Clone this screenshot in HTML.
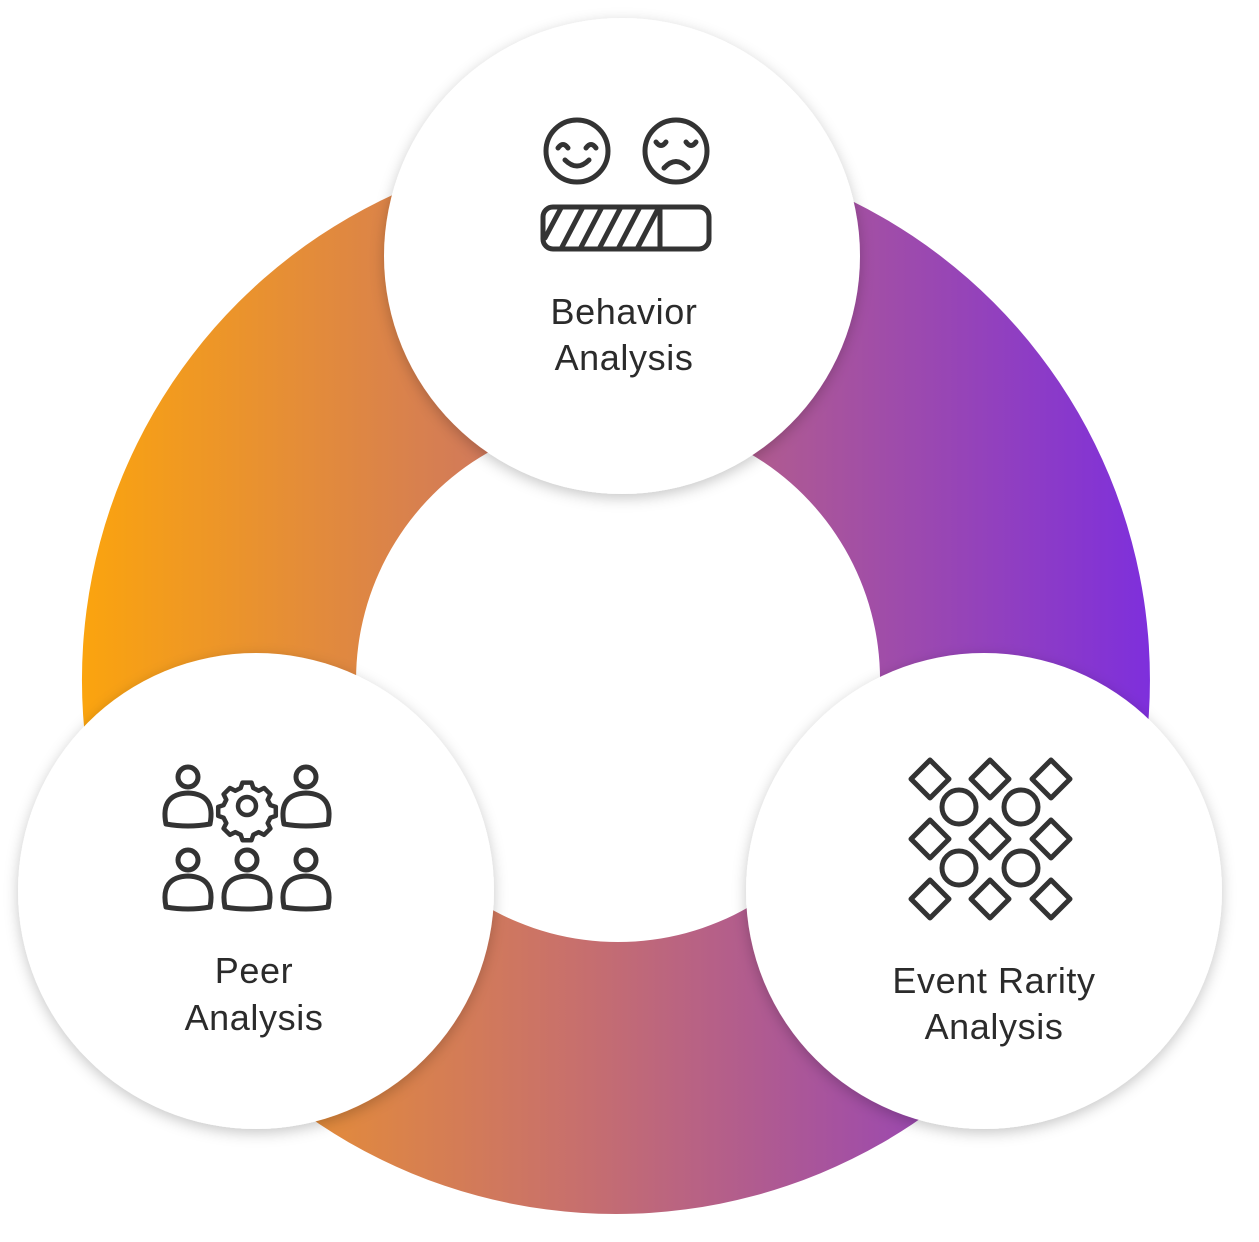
<!DOCTYPE html>
<html><head><meta charset="utf-8"><style>
html,body{margin:0;padding:0;background:#fff;}
svg{display:block;}
text{font-family:"Liberation Sans",sans-serif;font-size:36px;fill:#2b2b2b;text-anchor:middle;letter-spacing:0.6px;}
</style></head><body>
<svg width="1259" height="1242" viewBox="0 0 1259 1242" xmlns="http://www.w3.org/2000/svg">
<defs>
<linearGradient id="g" x1="82" y1="0" x2="1150" y2="0" gradientUnits="userSpaceOnUse">
<stop offset="0" stop-color="#fba40e"/>
<stop offset="0.45" stop-color="#c9716a"/>
<stop offset="1" stop-color="#7e2fdc"/>
</linearGradient>
<filter id="sh" x="-20%" y="-20%" width="140%" height="140%">
<feDropShadow dx="0" dy="4" stdDeviation="7" flood-color="#000" flood-opacity="0.22"/>
</filter>
</defs>
<path fill="url(#g)" fill-rule="evenodd" d="M616 146 A534 534 0 1 1 615.9 146 Z M618 418 A262 262 0 1 0 618.1 418 Z"/>
<g fill="#fff" filter="url(#sh)">
<circle cx="622" cy="256" r="238"/>
<circle cx="256" cy="891" r="238"/>
<circle cx="984" cy="891" r="238"/>
</g>
<g fill="none" stroke="#333" stroke-width="5" stroke-linecap="round" stroke-linejoin="round">
<circle cx="577" cy="151" r="31"/>
<circle cx="676" cy="151" r="31"/>
<path d="M558 148 q5 -7 10 0 M586 148 q5 -7 10 0 M565 160 q12 12 24 0"/>
<path d="M656 142 q5 7 10 0 M686 142 q5 7 10 0 M664 168 q12 -13 24 0"/>
<rect x="543" y="207" width="166" height="42" rx="10"/>
<line x1="660" y1="207" x2="660" y2="249"/>
<path d="M545 238 l16 -30 M561 249 l22 -42 M580 249 l22 -42 M599 249 l22 -42 M618 249 l22 -42 M637 249 l22 -42"/>
<g id="p">
<circle cx="188" cy="777" r="10"/>
<path d="M166 824 q-6 -30 22 -31 q28 1 22 31 q-22 4 -44 0z"/>
</g>
<use href="#p" x="118"/>
<use href="#p" y="83"/>
<use href="#p" x="59" y="83"/>
<use href="#p" x="118" y="83"/>
<g transform="translate(247 806) scale(0.9) translate(-247 -806)">
<circle cx="247" cy="806" r="10"/>
<path d="M242 780 h10 l2 6 l6 3 l6 -3 l7 7 l-3 6 l3 6 l6 2 v10 l-6 2 l-3 6 l3 6 l-7 7 l-6 -3 l-6 3 l-2 6 h-10 l-2 -6 l-6 -3 l-6 3 l-7 -7 l3 -6 l-3 -6 l-6 -2 v-10 l6 -2 l3 -6 l-3 -6 l7 -7 l6 3 l6 -3z"/>
</g>
<g id="d"><path d="M930 760 l19 19 l-19 19 l-19 -19z"/></g>
<use href="#d" x="60"/><use href="#d" x="121"/>
<use href="#d" y="60"/><use href="#d" x="60" y="60"/><use href="#d" x="121" y="60"/>
<use href="#d" y="120"/><use href="#d" x="60" y="120"/><use href="#d" x="121" y="120"/>
<circle cx="959" cy="807" r="17"/><circle cx="1021" cy="807" r="17"/>
<circle cx="959" cy="868" r="17"/><circle cx="1021" cy="868" r="17"/>
</g>
<text x="624" y="324">Behavior</text>
<text x="624" y="370">Analysis</text>
<text x="254" y="983">Peer</text>
<text x="254" y="1030">Analysis</text>
<text x="994" y="993">Event Rarity</text>
<text x="994" y="1039">Analysis</text>
</svg>
</body></html>
